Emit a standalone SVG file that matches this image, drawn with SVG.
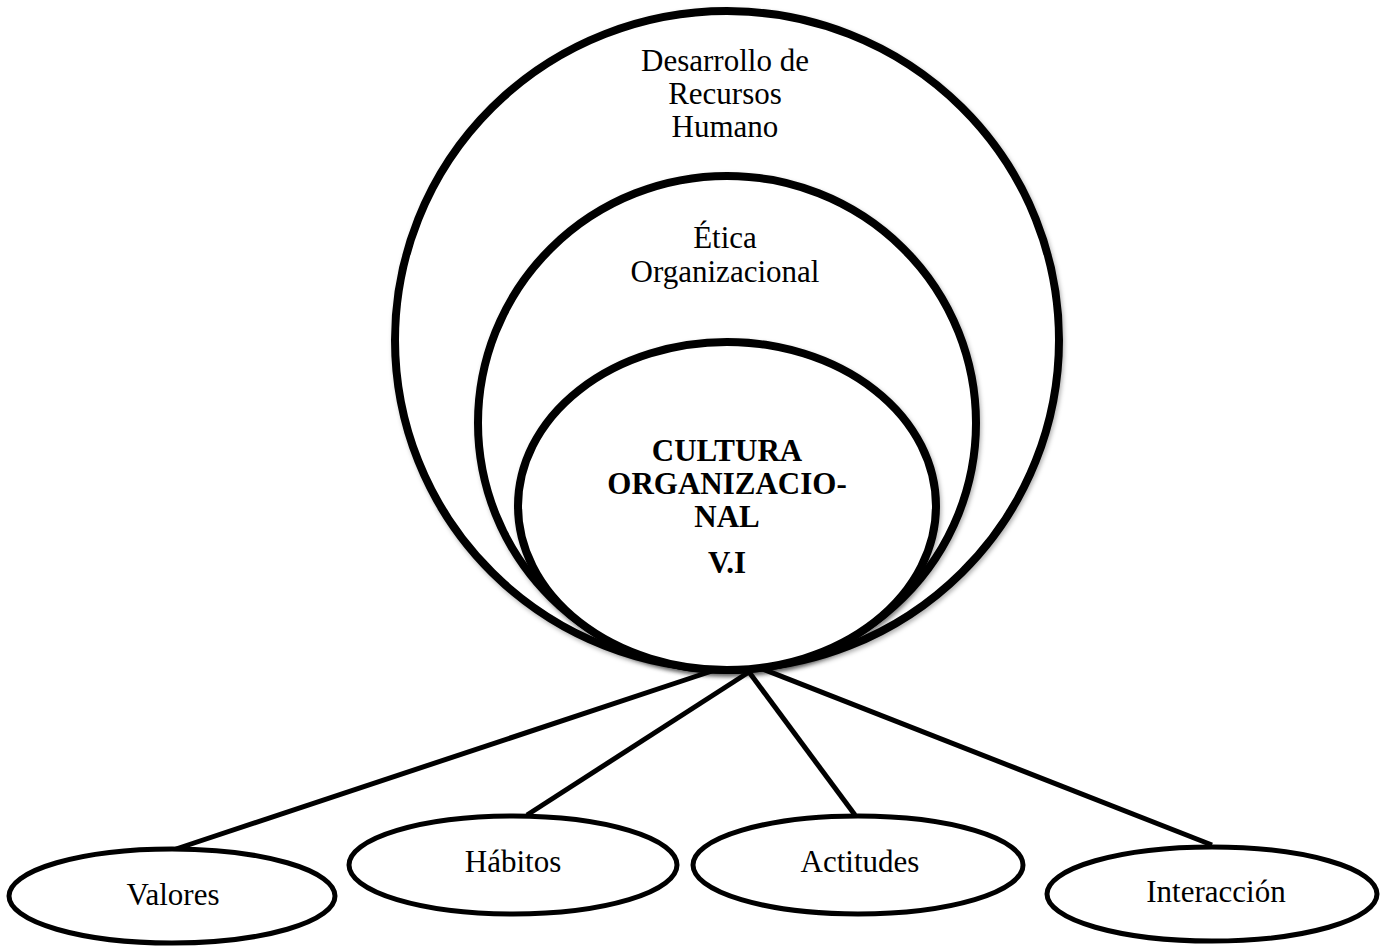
<svg xmlns="http://www.w3.org/2000/svg" width="1384" height="946" viewBox="0 0 1384 946">
<defs>
<filter id="sh" x="-5%" y="-5%" width="110%" height="110%">
<feDropShadow dx="1.5" dy="2.5" stdDeviation="2" flood-color="#000" flood-opacity="0.3"/>
</filter>
</defs>
<style>
.big{fill:#fff;stroke:#000;stroke-width:8;filter:url(#sh)}
.leaf{fill:#fff;stroke:#000;stroke-width:5}
.conn line{stroke:#000;stroke-width:5}
text{font-family:"Liberation Serif","Times New Roman",serif;fill:#000;text-anchor:middle}
.t{font-size:31px}
.b{font-size:31px;font-weight:bold}
</style>
<rect width="1384" height="946" fill="#fff"/>
<g id="connectors" class="conn">
<line x1="715" y1="670" x2="176" y2="849"/>
<line x1="749" y1="672" x2="527" y2="815"/>
<line x1="749" y1="672" x2="855" y2="815"/>
<line x1="760" y1="668" x2="1212" y2="845"/>
</g>
<g id="desarrollo">
<ellipse class="big" cx="727" cy="340" rx="332" ry="329"/>
<text class="t" x="725" y="71">Desarrollo de</text>
<text class="t" x="725" y="104">Recursos</text>
<text class="t" x="725" y="137">Humano</text>
</g>
<g id="etica">
<ellipse class="big" cx="727" cy="423" rx="249" ry="247"/>
<text class="t" x="725" y="248">Ética</text>
<text class="t" x="725" y="282">Organizacional</text>
</g>
<g id="cultura">
<ellipse class="big" cx="727" cy="506" rx="209" ry="164"/>
<text class="b" x="727" y="461">CULTURA</text>
<text class="b" x="727" y="494">ORGANIZACIO-</text>
<text class="b" x="727" y="527">NAL</text>
<text class="b" x="727" y="573">V.I</text>
</g>
<g id="valores">
<ellipse class="leaf" cx="172" cy="896" rx="163" ry="47"/>
<text class="t" x="173" y="905">Valores</text>
</g>
<g id="habitos">
<ellipse class="leaf" cx="513" cy="865" rx="164" ry="49"/>
<text class="t" x="513" y="872">Hábitos</text>
</g>
<g id="actitudes">
<ellipse class="leaf" cx="858" cy="865" rx="165" ry="49"/>
<text class="t" x="860" y="872">Actitudes</text>
</g>
<g id="interaccion">
<ellipse class="leaf" cx="1212" cy="894" rx="165" ry="47"/>
<text class="t" x="1216" y="902">Interacción</text>
</g>
</svg>
